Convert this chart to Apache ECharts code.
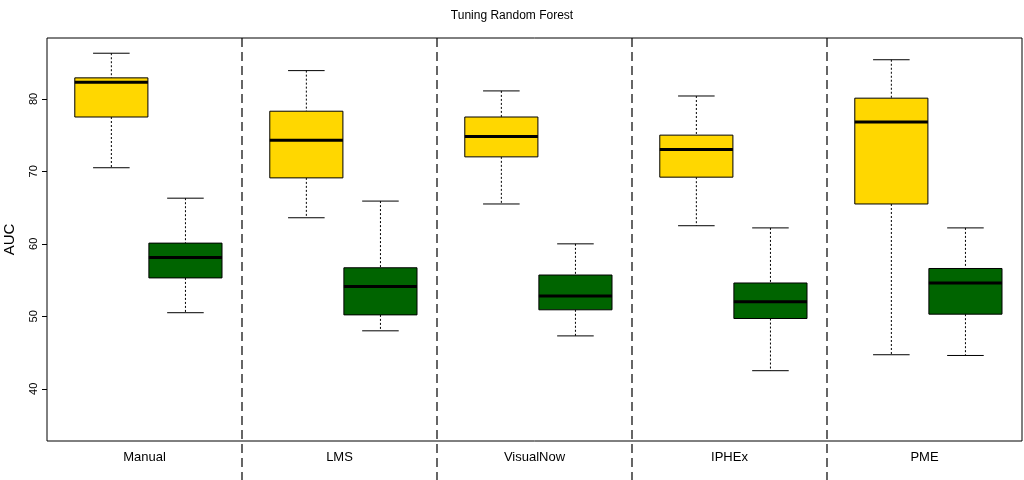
<!DOCTYPE html>
<html><head><meta charset="utf-8">
<script src="https://cdn.jsdelivr.net/npm/echarts@6/dist/echarts.min.js"></script>
<style>html,body{margin:0;padding:0;background:#fff}#c{width:1024px;height:480px}</style>
</head><body><div id="c"></div>
<script>
const categories = ['Manual','LMS','VisualNow','IPHEx','PME'];
// [low, Q1, median, Q3, high]
const yellowBoxes = [
  [70.5,77.5,82.3,82.9,86.3],
  [63.6,69.1,74.3,78.3,83.9],
  [65.5,72.0,74.8,77.5,81.1],
  [62.5,69.2,73.0,75.0,80.4],
  [44.7,65.5,76.8,80.1,85.4]
];
const greenBoxes = [
  [50.5,55.3,58.1,60.1,66.3],
  [48.0,50.2,54.1,56.7,65.9],
  [47.3,50.9,52.8,55.7,60.0],
  [42.5,49.7,52.0,54.6,62.2],
  [44.6,50.3,54.6,56.6,62.2]
];
const yTicks = [40,50,60,70,80];

function boxRender(color, offset, divider){
  return function(params, api){
    const i = api.value(0);
    const bw = api.size([1,0])[0];
    const cx = api.coord([i, 0])[0] + offset*bw;
    const hw = 0.1875*bw, cw = hw*0.5;
    const y = k => api.coord([i, api.value(k)])[1];
    const lo=y(1), q1=y(2), med=y(3), q3=y(4), hi=y(5);
    const ch = [];
    const dot = {stroke:'#000', lineWidth:1, lineDash:[2,2]};
    const sol = {stroke:'#000', lineWidth:1};
    ch.push({type:'line', shape:{x1:cx,y1:hi,x2:cx,y2:q3}, style:dot});
    ch.push({type:'line', shape:{x1:cx,y1:q1,x2:cx,y2:lo}, style:dot});
    ch.push({type:'line', shape:{x1:cx-cw,y1:hi,x2:cx+cw,y2:hi}, style:sol});
    ch.push({type:'line', shape:{x1:cx-cw,y1:lo,x2:cx+cw,y2:lo}, style:sol});
    ch.push({type:'rect', shape:{x:cx-hw,y:q3,width:2*hw,height:q1-q3}, style:{fill:color, stroke:'#000', lineWidth:1}});
    ch.push({type:'line', shape:{x1:cx-hw,y1:med,x2:cx+hw,y2:med}, style:{stroke:'#000', lineWidth:3}});
    if (divider && i > 0) {
      const cs = params.coordSys;
      const bx = api.coord([i,0])[0] - bw/2;
      ch.push({type:'line', shape:{x1:bx,y1:cs.y,x2:bx,y2:480}, style:{stroke:'#000', lineWidth:1.2, lineDash:[9,5]}});
    }
    return {type:'group', children:ch};
  };
}
const toData = arr => arr.map((b,i)=>[i].concat(b));

const chart = echarts.init(document.getElementById('c'));
chart.setOption({
  animation:false,
  textStyle:{fontFamily:'Liberation Sans, Arial, sans-serif'},
  title:{text:'Tuning Random Forest', left:'center', top:5, textStyle:{fontSize:12, fontWeight:'normal', color:'#000'}},
  grid:{left:47, right:2, top:38, bottom:39, show:true, borderColor:'#000', borderWidth:1, containLabel:false, outerBoundsMode:'none'},
  xAxis:{type:'category', data:categories, boundaryGap:true,
    axisLine:{show:false}, axisTick:{show:false}, splitLine:{show:false},
    axisLabel:{color:'#000', fontSize:13, margin:10}},
  yAxis:{type:'value', min:32.8, max:88.4, name:'AUC', nameLocation:'middle', nameGap:30,
    nameTextStyle:{fontSize:15, color:'#000'},
    axisLine:{show:false}, splitLine:{show:false},
    axisTick:{show:true, customValues:yTicks, length:5, lineStyle:{color:'#000'}},
    axisLabel:{customValues:yTicks, rotate:90, color:'#000', fontSize:11, margin:8}},
  series:[
    {type:'custom', name:'yellow', renderItem:boxRender('#ffd700', -0.17, true), data:toData(yellowBoxes), clip:false},
    {type:'custom', name:'green', renderItem:boxRender('#006400', 0.21, false), data:toData(greenBoxes), clip:false}
  ]
});
</script></body></html>
